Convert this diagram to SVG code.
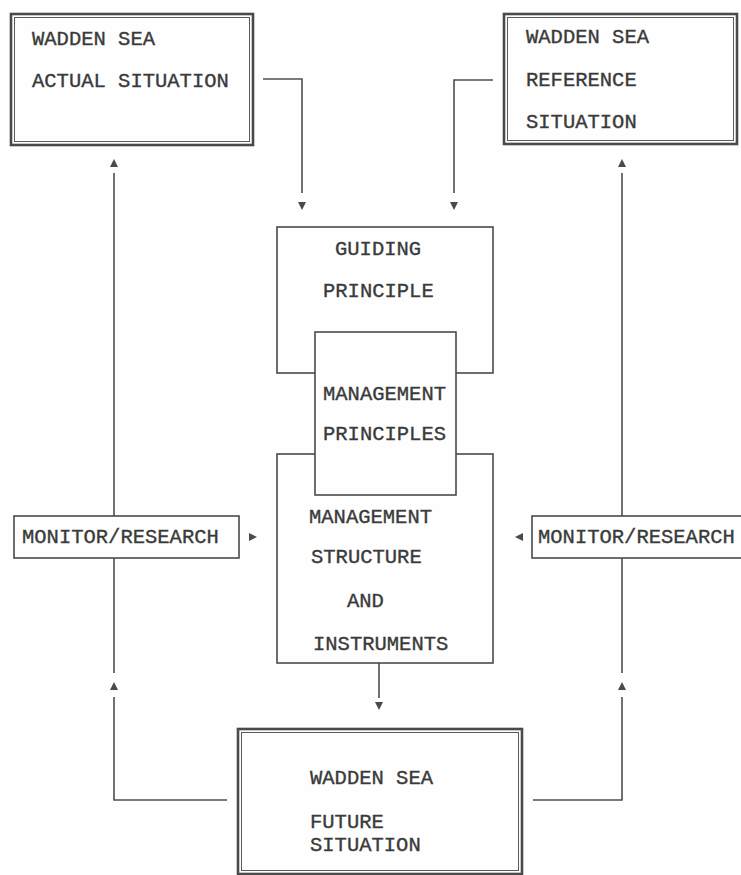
<svg xmlns="http://www.w3.org/2000/svg" width="741" height="875" viewBox="0 0 741 875">
  <defs>
    <style>
      .bg { fill: #fdfefd; }
      .box { fill: #fdfefd; stroke: #4a4a4a; stroke-width: 1.6; }
      .outer { fill: #fdfefd; stroke: #4a4a4a; stroke-width: 2.6; }
      .inner { fill: none; stroke: #5a5a5a; stroke-width: 1; }
      .line { fill: none; stroke: #4f4f4f; stroke-width: 1.6; }
      .head { fill: #4a4a4a; }
      text { font-family: "Liberation Mono", "Courier New", monospace; font-size: 20.5px; fill: #3a3a3a; stroke: #3a3a3a; stroke-width: 0.35; }
    </style>
    <!-- small solid triangle used as a free-standing arrowhead, tip at origin pointing right -->
    <path id="tri" d="M0,0 L-8,-4 L-8,4 Z"/>
  </defs>

  <rect class="bg" x="0" y="0" width="741" height="875"/>

  <!-- connectors -->
  <g id="connectors">
    <!-- actual situation -> guiding principle -->
    <polyline class="line" points="263,79 302,79 302,193"/>
    <use href="#tri" class="head" transform="translate(302,210) rotate(90)"/>
    <!-- reference situation -> guiding principle -->
    <polyline class="line" points="493,80 454,80 454,193"/>
    <use href="#tri" class="head" transform="translate(454,210) rotate(90)"/>
    <!-- left feedback loop -->
    <polyline class="line" points="227,800 114,800 114,697"/>
    <use href="#tri" class="head" transform="translate(114,682) rotate(-90)"/>
    <line class="line" x1="114" y1="673" x2="114" y2="558"/>
    <line class="line" x1="114" y1="516" x2="114" y2="173"/>
    <use href="#tri" class="head" transform="translate(114,159) rotate(-90)"/>
    <!-- right feedback loop -->
    <polyline class="line" points="533,800 622,800 622,697"/>
    <use href="#tri" class="head" transform="translate(622,682) rotate(-90)"/>
    <line class="line" x1="622" y1="673" x2="622" y2="558"/>
    <line class="line" x1="622" y1="516" x2="622" y2="173"/>
    <use href="#tri" class="head" transform="translate(622,159) rotate(-90)"/>
    <!-- monitor/research -> management structure -->
    <use href="#tri" class="head" transform="translate(257,537)"/>
    <use href="#tri" class="head" transform="translate(515,537) rotate(180)"/>
    <!-- management structure -> future situation -->
    <line class="line" x1="379" y1="663" x2="379" y2="698"/>
    <use href="#tri" class="head" transform="translate(379,710) rotate(90)"/>
  </g>

  <g id="actual-situation">
    <rect class="outer" x="11" y="14" width="242" height="131"/>
    <rect class="inner" x="14.5" y="17.5" width="235" height="124"/>
    <text x="32" y="45">WADDEN SEA</text>
    <text x="32" y="87">ACTUAL SITUATION</text>
  </g>

  <g id="reference-situation">
    <rect class="outer" x="504" y="14" width="233" height="130"/>
    <rect class="inner" x="507.5" y="17.5" width="226" height="123"/>
    <text x="526" y="43">WADDEN SEA</text>
    <text x="526" y="86">REFERENCE</text>
    <text x="526" y="128">SITUATION</text>
  </g>

  <g id="guiding-principle">
    <rect class="box" x="277" y="227" width="216" height="146"/>
    <text x="335" y="255">GUIDING</text>
    <text x="323" y="297">PRINCIPLE</text>
  </g>

  <g id="management-structure">
    <rect class="box" x="277" y="454" width="216" height="209"/>
    <text x="309" y="523">MANAGEMENT</text>
    <text x="311" y="563">STRUCTURE</text>
    <text x="347" y="607">AND</text>
    <text x="313" y="650">INSTRUMENTS</text>
  </g>

  <g id="management-principles">
    <rect class="box" x="315" y="332" width="141" height="163"/>
    <text x="323" y="400">MANAGEMENT</text>
    <text x="323" y="440">PRINCIPLES</text>
  </g>

  <g id="monitor-left">
    <rect class="box" x="14" y="516" width="225" height="42"/>
    <text x="22" y="543">MONITOR/RESEARCH</text>
  </g>

  <g id="monitor-right">
    <rect class="box" x="532" y="516" width="225" height="42"/>
    <text x="538" y="543">MONITOR/RESEARCH</text>
  </g>

  <g id="future-situation">
    <rect class="outer" x="238" y="729" width="284" height="145"/>
    <rect class="inner" x="241.5" y="732.5" width="277" height="138"/>
    <text x="310" y="784">WADDEN SEA</text>
    <text x="310" y="828">FUTURE</text>
    <text x="310" y="851">SITUATION</text>
  </g>
</svg>
